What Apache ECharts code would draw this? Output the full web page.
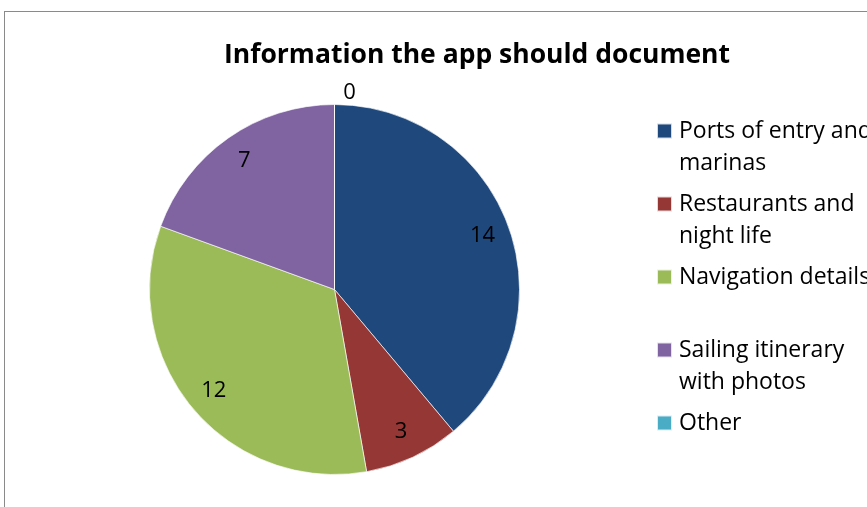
<!DOCTYPE html>
<html>
<head>
<meta charset="utf-8">
<script src="https://cdn.jsdelivr.net/npm/echarts@6/dist/echarts.min.js"></script>
<style>
  html, body { margin: 0; padding: 0; background: #fff; overflow: hidden; }
  #frame {
    position: absolute; left: 4px; top: 11px; width: 1000px; height: 1000px;
    border-left: 1px solid #8a8a8a; border-top: 1px solid #8a8a8a;
  }
  #chart { position: absolute; left: 0; top: 0; width: 867px; height: 507px; }
</style>
</head>
<body>
<div id="frame"></div>
<div id="chart"></div>
<script>
// Survey answers: what the app should record
const titleText = 'Information the app should document';
const categories = [
  'Ports of entry and\nmarinas',
  'Restaurants and\nnight life',
  'Navigation details\n ',
  'Sailing itinerary\nwith photos',
  'Other\n '
];
const counts = [14, 3, 12, 7, 0];
const sliceColors = ['#1F497D', '#953735', '#9BBB59', '#8064A2', '#4BACC6'];

const FONT = '"Open Sans", "Noto Sans", sans-serif';
const CENTER = [334.5, 289.5];
const RADIUS = 185;

const pieData = categories.map((name, i) => ({
  name: name,
  value: counts[i],
  itemStyle: { color: sliceColors[i] }
}));

// Transparent ring that only carries the value labels, part-way out from the centre
const labelData = categories.map((name, i) => {
  const item = { name: name, value: counts[i] };
  if (counts[i] === 0) {
    // an empty slice has no room inside: lift its label just above the rim
    item.label = { offset: [15, -39] };
  }
  return item;
});

const chart = echarts.init(document.getElementById('chart'), null, { renderer: 'canvas' });
chart.setOption({
  animation: false,
  backgroundColor: 'transparent',
  title: {
    text: titleText,
    left: 472,
    textAlign: 'center',
    top: 37,
    textStyle: { fontFamily: FONT, fontWeight: 'bold', fontSize: 26.5, color: '#000' }
  },
  legend: {
    orient: 'vertical',
    left: 651,
    top: 78,
    itemWidth: 15,
    itemHeight: 15,
    itemGap: -23,
    icon: 'rect',
    selectedMode: false,
    data: categories,
    // a blank leading line keeps each swatch level with the first line of its text
    formatter: (name) => ' \n' + name,
    textStyle: {
      fontFamily: FONT,
      fontSize: 23,
      color: '#000',
      lineHeight: 32,
      padding: [0, 0, 0, 2]
    }
  },
  series: [
    {
      type: 'pie',
      center: CENTER,
      radius: [0, RADIUS],
      startAngle: 90,
      clockwise: true,
      avoidLabelOverlap: false,
      label: { show: false },
      labelLine: { show: false },
      emphasis: { disabled: true },
      itemStyle: { borderColor: 'rgba(255,255,255,0.8)', borderWidth: 0.8 },
      data: pieData
    },
    {
      type: 'pie',
      center: CENTER,
      radius: [RADIUS * 0.67, RADIUS],
      startAngle: 90,
      clockwise: true,
      silent: true,
      avoidLabelOverlap: false,
      itemStyle: { color: 'rgba(0,0,0,0)', borderWidth: 0 },
      emphasis: { disabled: true },
      label: {
        show: true,
        position: 'inside',
        formatter: '{c}',
        fontFamily: FONT,
        fontSize: 22,
        color: '#000'
      },
      labelLine: { show: false },
      data: labelData
    }
  ]
});
</script>
</body>
</html>
